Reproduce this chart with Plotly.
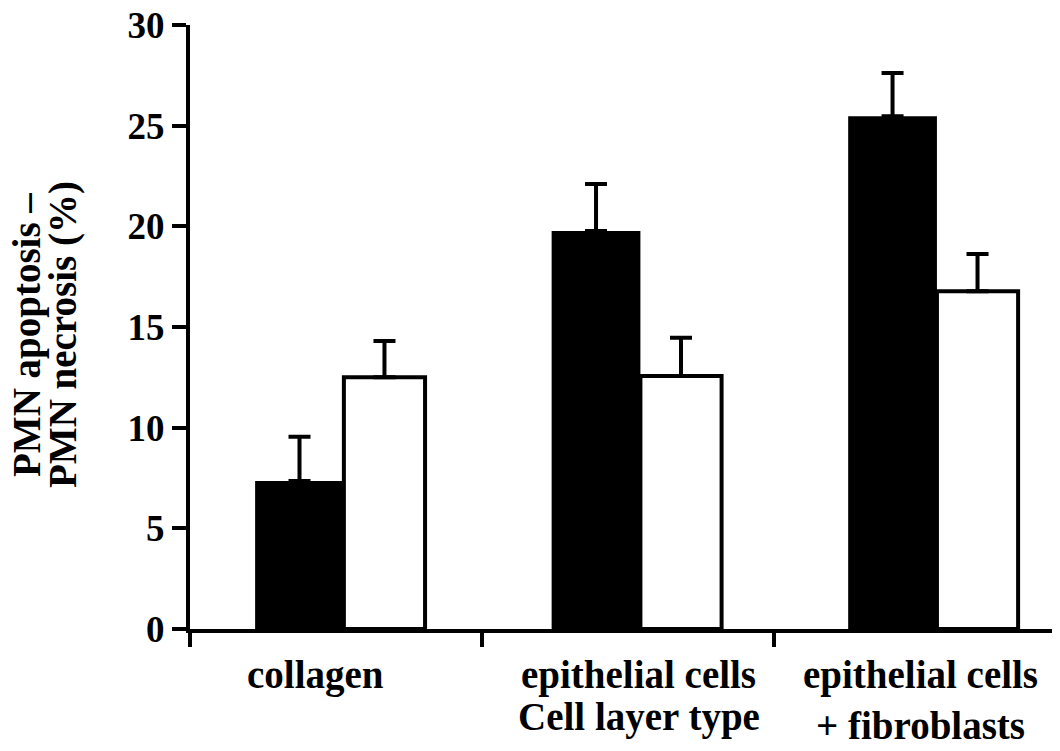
import plotly.graph_objects as go

# ---- data ----
categories = ["collagen", "epithelial cells", "epithelial cells<br>+ fibroblasts"]
black_values = [7.35, 19.77, 25.47]
black_errors = [2.2, 2.33, 2.15]
white_values = [12.5, 12.57, 16.77]
white_errors = [1.8, 1.9, 1.85]
y_ticks = [0, 5, 10, 15, 20, 25, 30]
y_title_lines = ["PMN apoptosis –", "PMN necrosis (%)"]
x_title = "Cell layer type"

# ---- layout constants (page has an 8px body margin) ----
W, H = 1060, 751
OFF = 8
ML, MT, MB = 182, 17, 130
MR = 0
PLOT_W = W - ML - MR
PLOT_H = H - MT - MB
PX_PER_CAT = 292.0
X_MAX = PLOT_W / PX_PER_CAT
FIRST = 0.527
STEP = 1.0155
BLACK_W = 0.304
WHITE_W = 0.278
LABEL_X = [0.43, 1.537, 2.50]
TITLE_X = [27, 63]
FONT = "Liberation Serif, Times New Roman, serif"
FS = 39


def page_y_to_paper(py):
    return (H - MB - (py - OFF)) / PLOT_H


def page_x_to_paper(px):
    return ((px - OFF) - ML) / PLOT_W


bounds = [FIRST + i * STEP for i in range(len(categories))]
black_x = [b - BLACK_W / 2 for b in bounds]
white_x = [b + WHITE_W / 2 for b in bounds]

fig = go.Figure()
fig.add_trace(go.Bar(
    x=black_x, y=black_values, width=BLACK_W,
    marker=dict(color="black", line=dict(width=0)),
    error_y=dict(type="data", array=black_errors, arrayminus=[0] * 3, symmetric=False,
                 color="black", thickness=4, width=11),
    showlegend=False,
))
fig.add_trace(go.Bar(
    x=white_x, y=white_values, width=WHITE_W,
    marker=dict(color="white", line=dict(color="black", width=4)),
    error_y=dict(type="data", array=white_errors, arrayminus=[0] * 3, symmetric=False,
                 color="black", thickness=4, width=11),
    showlegend=False,
))

fig.update_layout(
    width=W, height=H,
    margin=dict(l=ML, r=MR, t=MT, b=MB, autoexpand=False),
    paper_bgcolor="white", plot_bgcolor="white",
    barmode="overlay",
    font=dict(family=FONT, color="black"),
    xaxis=dict(range=[0, X_MAX], showgrid=False, zeroline=False,
               showline=True, linewidth=4, linecolor="black",
               ticks="outside", ticklen=14, tickwidth=4, tickcolor="black",
               tickvals=[0, 1, 2], showticklabels=False),
    yaxis=dict(range=[0, 30], showgrid=False, zeroline=False,
               showline=True, linewidth=4, linecolor="black",
               ticks="outside", ticklen=14, tickwidth=4, tickcolor="black",
               tickvals=y_ticks, ticktext=[str(t) for t in y_ticks],
               ticklabeloverflow="allow",
               tickfont=dict(family=FONT, size=37, color="black", weight="bold")),
)

annots = []
for lx, lab in zip(LABEL_X, categories):
    annots.append(dict(x=lx, y=page_y_to_paper(675), xref="x", yref="paper", text=lab,
                       showarrow=False, xanchor="center", yanchor="top", yshift=24,
                       font=dict(family=FONT, size=FS, color="black", weight="bold")))
annots.append(dict(x=LABEL_X[1], y=page_y_to_paper(717), xref="x", yref="paper", text=x_title,
                   showarrow=False, xanchor="center", yanchor="middle",
                   font=dict(family=FONT, size=FS, color="black", weight="bold")))
for tx, line in zip(TITLE_X, y_title_lines):
    annots.append(dict(x=page_x_to_paper(tx), y=page_y_to_paper(335), xref="paper", yref="paper",
                       text=line, textangle=-90, showarrow=False,
                       xanchor="center", yanchor="middle",
                       font=dict(family=FONT, size=FS, color="black", weight="bold")))
fig.update_layout(annotations=annots)

fig.write_html("out.html")
